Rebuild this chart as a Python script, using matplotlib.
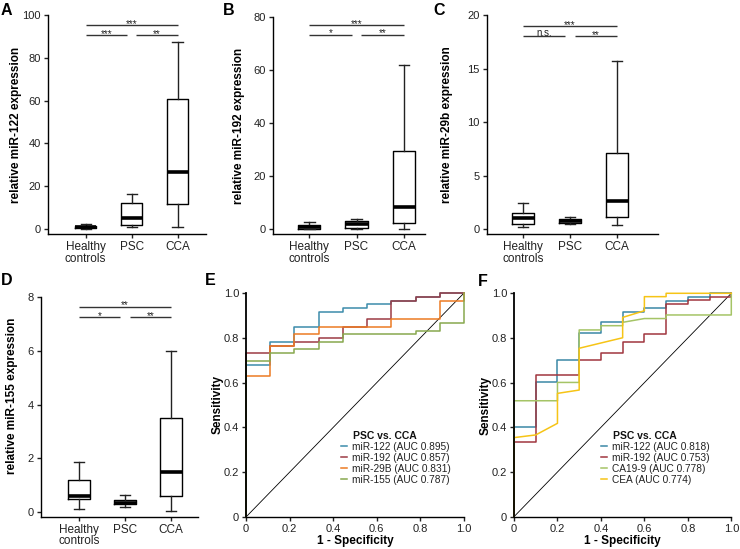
import matplotlib
matplotlib.use("Agg")
import matplotlib.pyplot as plt

plt.rcParams['font.family'] = ['Liberation Sans', 'DejaVu Sans']

# ---------------- data ----------------
categories = ["Healthy\ncontrols", "PSC", "CCA"]

# Panel A: miR-122
A_med = [0.9, 5.0, 26.8]
A_q1 = [0.3, 1.9, 11.9]
A_q3 = [1.6, 12.0, 60.8]
A_lo = [0.1, 0.8, 1.1]
A_hi = [2.3, 16.4, 87.7]
A_yticks = [0, 20, 40, 60, 80, 100]
A_sig = ["***", "***", "**"]
A_sig_levels = [95.5, 90.8]

# Panel B: miR-192
B_med = [0.8, 1.8, 8.2]
B_q1 = [0.1, 0.4, 2.4]
B_q3 = [1.4, 3.1, 29.6]
B_lo = [0.0, 0.1, 0.1]
B_hi = [2.8, 3.9, 61.8]
B_yticks = [0, 20, 40, 60, 80]
B_sig = ["***", "*", "**"]
B_sig_levels = [77.1, 73.4]

# Panel C: miR-29b
C_med = [1.0, 0.78, 2.62]
C_q1 = [0.47, 0.59, 1.12]
C_q3 = [1.47, 0.94, 7.15]
C_lo = [0.19, 0.47, 0.37]
C_hi = [2.46, 1.12, 15.7]
C_yticks = [0, 5, 10, 15, 20]
C_sig = ["***", "n.s.", "**"]
C_sig_levels = [19.0, 18.03]

# Panel D: miR-155
D_med = [0.6, 0.35, 1.5]
D_q1 = [0.48, 0.31, 0.62]
D_q3 = [1.2, 0.46, 3.49]
D_lo = [0.11, 0.21, 0.06]
D_hi = [1.88, 0.63, 5.98]
D_yticks = [0, 2, 4, 6, 8]
D_sig = ["**", "*", "**"]
D_sig_levels = [7.63, 7.23]

# Panel E: ROC PSC vs CCA (step curves, 9 PSC)
E_fpr = [0, 0, 1/9, 2/9, 3/9, 4/9, 5/9, 6/9, 7/9, 8/9, 1.0]
E_names = ["miR-122 (AUC 0.895)", "miR-192 (AUC 0.857)",
           "miR-29B (AUC 0.831)", "miR-155 (AUC 0.787)"]
E_tpr_122 = [0, 0.679, 0.78, 0.847, 0.914, 0.932, 0.95, 0.966, 0.98, 1.0, 1.0]
E_tpr_192 = [0, 0.731, 0.763, 0.78, 0.798, 0.846, 0.882, 0.966, 0.98, 1.0, 1.0]
E_tpr_29b = [0, 0.631, 0.763, 0.815, 0.847, 0.847, 0.847, 0.882, 0.882, 0.966, 1.0]
E_tpr_155 = [0, 0.696, 0.731, 0.749, 0.78, 0.815, 0.815, 0.815, 0.832, 0.865, 1.0]
E_colors = ["#3C8CAB", "#9C3A44", "#EC7B23", "#88A84E"]

# Panel F: ROC PSC vs CCA (10 PSC)
F_names = ["miR-122 (AUC 0.818)", "miR-192 (AUC 0.753)",
           "CA19-9 (AUC 0.778)", "CEA (AUC 0.774)"]
F_fpr_122 = [0, 0, 0.1, 0.1, 0.2, 0.2, 0.3, 0.3, 0.4, 0.4, 0.5, 0.5, 0.6, 0.6, 0.7, 0.7, 0.8, 0.8, 0.9, 0.9, 1.0]
F_tpr_122 = [0, 0.403, 0.403, 0.601, 0.601, 0.701, 0.701, 0.824, 0.824, 0.870, 0.870, 0.918, 0.918, 0.936, 0.936, 0.967, 0.967, 0.985, 0.985, 1.0, 1.0]
F_fpr_192 = [0, 0, 0.1, 0.1, 0.3, 0.3, 0.4, 0.4, 0.5, 0.5, 0.6, 0.6, 0.7, 0.7, 0.8, 0.8, 0.9, 0.9, 1.0, 1.0]
F_tpr_192 = [0, 0.333, 0.333, 0.634, 0.634, 0.701, 0.701, 0.734, 0.734, 0.784, 0.784, 0.818, 0.818, 0.951, 0.951, 0.969, 0.969, 0.985, 0.985, 1.0]
F_fpr_ca199 = [0, 0, 0.2, 0.2, 0.3, 0.3, 0.4, 0.4, 0.5, 0.5, 0.6, 0.7, 0.7, 1.0, 1.0]
F_tpr_ca199 = [0, 0.519, 0.519, 0.601, 0.601, 0.836, 0.836, 0.855, 0.855, 0.87, 0.887, 0.887, 0.903, 0.903, 1.0]
F_fpr_cea = [0, 0, 0.1, 0.2, 0.2, 0.3, 0.3, 0.5, 0.5, 0.6, 0.6, 0.7, 0.7, 1.0]
F_tpr_cea = [0, 0.354, 0.366, 0.418, 0.552, 0.567, 0.754, 0.801, 0.892, 0.922, 0.985, 0.985, 1.0, 1.0]
F_colors = ["#3A88A6", "#A0363F", "#A5C466", "#F6C416"]

roc_ticks = [0, 0.2, 0.4, 0.6, 0.8, 1.0]
roc_tick_labels = ["0", "0.2", "0.4", "0.6", "0.8", "1.0"]

# ---------------- figure ----------------
W, H = 740, 549
fig = plt.figure(figsize=(W / 100, H / 100), dpi=100)


def px_axes(l, t, r, b):
    return fig.add_axes([l / W, 1 - b / H, (r - l) / W, (b - t) / H])


def style_axes(ax, labelsize):
    for s in ["top", "right"]:
        ax.spines[s].set_visible(False)
    for s in ["left", "bottom"]:
        ax.spines[s].set_linewidth(1.0)
    ax.tick_params(direction="out", length=3, width=1.0, labelsize=labelsize,
                   colors="#222222", pad=2)


def box_panel(ax, med, q1, q3, lo, hi, yticks, ylabel, sig, sig_levels,
              xlim, ylim, ylabel_x, ylabel_y=0.5):
    stats = [dict(med=m, q1=a, q3=b, whislo=l, whishi=h, label=c)
             for m, a, b, l, h, c in zip(med, q1, q3, lo, hi, categories)]
    ax.bxp(stats, positions=[1, 2, 3], widths=0.47, showfliers=False,
           capwidths=0.22,
           boxprops=dict(color="black", lw=1.0),
           medianprops=dict(color="black", lw=2.6, solid_capstyle="butt"),
           whiskerprops=dict(color="#222222", lw=1.0),
           capprops=dict(color="#222222", lw=1.0))
    ax.set_xlim(*xlim)
    ax.set_ylim(*ylim)
    ax.set_yticks(yticks)
    style_axes(ax, 8)
    ax.tick_params(axis="x", labelsize=8.5)
    for t in ax.get_xticklabels():
        t.set_linespacing(0.95)
    ax.set_ylabel(ylabel, fontsize=8.5, fontweight="bold")
    ax.yaxis.set_label_coords(ylabel_x, ylabel_y)
    # significance bars
    spans = [(1, 3), (1, 1.9), (2.1, 3)]
    levels = [sig_levels[0], sig_levels[1], sig_levels[1]]
    for (x0, x1), lvl, lab in zip(spans, levels, sig):
        ax.plot([x0, x1], [lvl, lvl], color="#333333", lw=1.0,
                solid_capstyle="butt", clip_on=False)
        off = -1.2 if "*" in lab else 0.6
        ax.annotate(lab, xy=((x0 + x1) / 2, lvl), xytext=(0, off),
                    textcoords="offset points", ha="center", va="baseline",
                    fontsize=7, color="#222222", annotation_clip=False)


axA = px_axes(47.5, 15.3, 206, 234.3)
box_panel(axA, A_med, A_q1, A_q3, A_lo, A_hi, A_yticks,
          "relative miR-122 expression", A_sig, A_sig_levels,
          (0.17, 3.62), (-2.5, 100), ylabel_x=-0.161)

axB = px_axes(273, 17.3, 425, 234.3)
box_panel(axB, B_med, B_q1, B_q3, B_lo, B_hi, B_yticks,
          "relative miR-192 expression", B_sig, B_sig_levels,
          (0.23, 3.45), (-2, 80), ylabel_x=-0.184)

axC = px_axes(486.5, 15.3, 657.7, 234.3)
box_panel(axC, C_med, C_q1, C_q3, C_lo, C_hi, C_yticks,
          "relative miR-29b expression", C_sig, C_sig_levels,
          (0.21, 3.88), (-0.5, 20), ylabel_x=-0.196)

axD = px_axes(40.7, 296.7, 198.3, 516.7)
box_panel(axD, D_med, D_q1, D_q3, D_lo, D_hi, D_yticks,
          "relative miR-155 expression", D_sig, D_sig_levels,
          (0.167, 3.59), (-0.16, 8), ylabel_x=-0.144, ylabel_y=0.55)


def roc_axes(ax, ylabel_x):
    ax.set_xlim(0, 1)
    ax.set_ylim(0, 1)
    ax.set_xticks(roc_ticks, roc_tick_labels)
    ax.set_yticks(roc_ticks, roc_tick_labels)
    style_axes(ax, 8)
    ax.spines["left"].set_linewidth(1.3)
    ax.axline((0, 0), slope=1, color="black", lw=0.6)
    ax.set_xlabel("1 - Specificity", fontsize=8.5, fontweight="bold")
    ax.xaxis.set_label_coords(0.5, -0.082)
    ax.set_ylabel("Sensitivity", fontsize=8.5, fontweight="bold")
    ax.yaxis.set_label_coords(ylabel_x, 0.5)


axE = px_axes(246, 293, 464, 517)
roc_axes(axE, -0.102)
for tpr, col, name in zip([E_tpr_122, E_tpr_192, E_tpr_29b, E_tpr_155],
                          E_colors, E_names):
    axE.plot(E_fpr, tpr, drawstyle="steps-post", color=col, lw=1.1,
             clip_on=False, label=name)

axF = px_axes(514, 293.3, 731.3, 516.7)
roc_axes(axF, -0.102)
for fpr, tpr, col, name in zip([F_fpr_122, F_fpr_192, F_fpr_ca199, F_fpr_cea],
                               [F_tpr_122, F_tpr_192, F_tpr_ca199, F_tpr_cea],
                               F_colors, F_names):
    axF.plot(fpr, tpr, color=col, lw=1.1, clip_on=False, label=name)


def roc_legend(ax, x, y, tx, ty):
    ax.legend(loc="upper left", bbox_to_anchor=(x, y), frameon=False,
              fontsize=7.3, handlelength=0.6, handletextpad=0.5,
              labelspacing=0.1, borderpad=0, borderaxespad=0,
              labelcolor="#222222")
    ax.text(tx, ty, "PSC vs. CCA", transform=ax.transAxes, fontsize=7.5,
            fontweight="bold", ha="left", va="center", color="#111111")


roc_legend(axE, 0.436, 0.337, 0.491, 0.362)
roc_legend(axF, 0.400, 0.336, 0.456, 0.360)

# panel letters
for lab, x, y in [("A", 1, 15), ("B", 223, 15), ("C", 433, 15),
                  ("D", 1, 285), ("E", 205, 285), ("F", 478, 286)]:
    fig.text(x / W, 1 - y / H, lab, fontsize=11.5, fontweight="bold",
             ha="left", va="baseline")

fig.savefig("out.png", dpi=100)
